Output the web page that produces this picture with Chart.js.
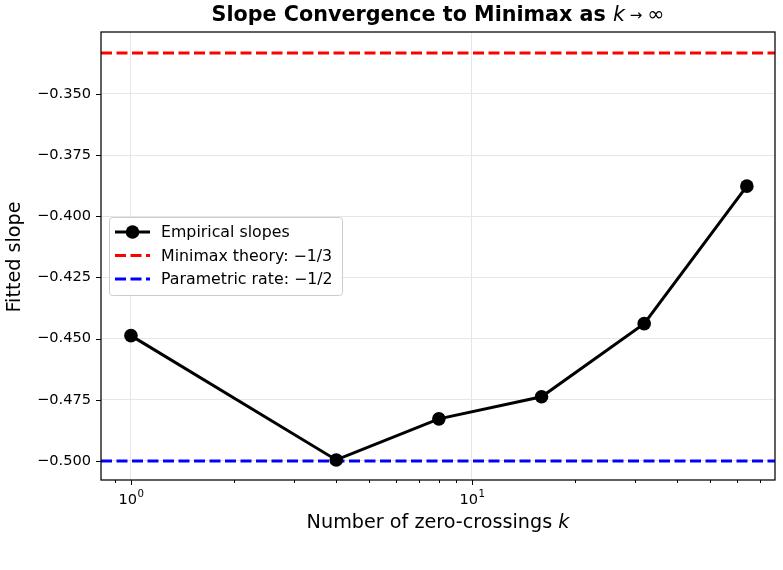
<!DOCTYPE html>
<html>
<head>
<meta charset="utf-8">
<script src="https://cdn.jsdelivr.net/npm/chart.js@4.4.0/dist/chart.umd.min.js"></script>
<style>
    html, body { margin: 0; padding: 0; background: #fff; }
    #wrap { width: 783px; height: 570px; }
</style>
</head>
<body>
<div id="wrap"><canvas id="slopeChart" width="783" height="570"></canvas></div>
<script>
// Data
const kValues = [1, 4, 8, 16, 32, 64];
const empiricalSlopes = [-0.4488, -0.4996, -0.4828, -0.4738, -0.4439, -0.3877];
const minimaxSlope = -1 / 3;
const parametricSlope = -1 / 2;

// Axis ticks
const yTicks = [-0.500, -0.475, -0.450, -0.425, -0.400, -0.375, -0.350];
const xMajorTicks = [1, 10];
const xMajorExponents = ['0', '1'];
const xMinorTicks = [0.9, 2, 3, 4, 5, 6, 7, 8, 9, 20, 30, 40, 50, 60, 70];
const xRange = [0.817, 77.4];
const yRange = [-0.5078, -0.3247];

const FONT = "'DejaVu Sans', sans-serif";

/**
 * Titel, assen, frame en legenda tekenen
 */
const decorPlugin = {
    id: 'decor',
    afterDraw(chart) {
        const ctx = chart.ctx;
        const area = chart.chartArea;
        const xs = chart.scales.x;
        const ys = chart.scales.y;

        ctx.save();
        ctx.strokeStyle = '#000';
        ctx.lineWidth = 1;

        // x ticks (outward)
        xMajorTicks.concat(xMinorTicks).forEach(v => {
            const px = Math.round(xs.getPixelForValue(v)) + 0.5;
            const len = xMajorTicks.includes(v) ? 5 : 3;
            ctx.beginPath();
            ctx.moveTo(px, area.bottom);
            ctx.lineTo(px, area.bottom + len);
            ctx.stroke();
        });

        // x tick labels: 10 met exponent
        ctx.fillStyle = '#000';
        ctx.textBaseline = 'alphabetic';
        ctx.textAlign = 'left';
        xMajorTicks.forEach((v, i) => {
            const px = xs.getPixelForValue(v);
            ctx.font = '14.6px ' + FONT;
            const wBase = ctx.measureText('10').width;
            ctx.font = '10.2px ' + FONT;
            const wExp = ctx.measureText(xMajorExponents[i]).width;
            const x0 = px - (wBase + wExp) / 2;
            ctx.font = '14.6px ' + FONT;
            ctx.fillText('10', x0, 504);
            ctx.font = '10.2px ' + FONT;
            ctx.fillText(xMajorExponents[i], x0 + wBase + 0.5, 497);
        });

        // y ticks
        yTicks.forEach(v => {
            const py = Math.round(ys.getPixelForValue(v)) + 0.5;
            ctx.beginPath();
            ctx.moveTo(area.left, py);
            ctx.lineTo(area.left - 5, py);
            ctx.stroke();
        });

        // frame
        ctx.lineWidth = 1.25;
        ctx.strokeRect(area.left, area.top, area.right - area.left, area.bottom - area.top);

        // legend
        const lx = 109, ly = 217, lw = 233, lh = 78;
        ctx.beginPath();
        if (ctx.roundRect) {
            ctx.roundRect(lx + 0.5, ly + 0.5, lw, lh, 3);
        } else {
            ctx.rect(lx + 0.5, ly + 0.5, lw, lh);
        }
        ctx.fillStyle = 'rgba(255,255,255,0.85)';
        ctx.fill();
        ctx.strokeStyle = '#cccccc';
        ctx.lineWidth = 1;
        ctx.stroke();

        ctx.font = '15.8px ' + FONT;
        ctx.textBaseline = 'middle';
        ctx.textAlign = 'left';
        chart.data.datasets.forEach((ds, i) => {
            const cy = 232 + i * 23.5;
            ctx.save();
            ctx.strokeStyle = ds.borderColor;
            ctx.lineWidth = ds.borderWidth;
            ctx.setLineDash(ds.borderDash || []);
            ctx.beginPath();
            ctx.moveTo(115, cy);
            ctx.lineTo(150, cy);
            ctx.stroke();
            ctx.restore();
            if (ds.pointRadius > 0) {
                ctx.beginPath();
                ctx.arc(132.5, cy, ds.pointRadius, 0, Math.PI * 2);
                ctx.fillStyle = ds.pointBackgroundColor;
                ctx.fill();
            }
            ctx.fillStyle = '#000';
            ctx.fillText(ds.label, 161, cy + 1);
        });

        // title with italic k
        const cx = (area.left + area.right) / 2;
        drawParts(ctx, [
            { t: 'Slope Convergence to Minimax as ', f: 'bold 20.7px ' + FONT },
            { t: 'k', f: 'italic 20.7px ' + FONT },
            { t: ' \u2192 ', f: '15px ' + FONT },
            { t: '\u221e', f: '20.7px ' + FONT }
        ], cx, 16);

        // x-as label
        drawParts(ctx, [
            { t: 'Number of zero-crossings ', f: '19.2px ' + FONT },
            { t: 'k', f: 'italic 19.2px ' + FONT }
        ], cx, 523);

        // y-as label
        ctx.save();
        ctx.translate(15, (area.top + area.bottom) / 2 + 1);
        ctx.rotate(-Math.PI / 2);
        ctx.font = '19.2px ' + FONT;
        ctx.fillStyle = '#000';
        ctx.textAlign = 'center';
        ctx.textBaseline = 'middle';
        ctx.fillText('Fitted slope', 0, 0);
        ctx.restore();

        ctx.restore();
    }
};

function drawParts(ctx, parts, cx, cy) {
    let total = 0;
    parts.forEach(p => {
        ctx.font = p.f;
        p.w = ctx.measureText(p.t).width;
        total += p.w;
    });
    let x = cx - total / 2;
    ctx.fillStyle = '#000';
    ctx.textAlign = 'left';
    ctx.textBaseline = 'middle';
    parts.forEach(p => {
        ctx.font = p.f;
        ctx.fillText(p.t, x, cy);
        x += p.w;
    });
}

function hLine(y) {
    return [{ x: xRange[0], y: y }, { x: xRange[1], y: y }];
}

new Chart(document.getElementById('slopeChart').getContext('2d'), {
    type: 'line',
    data: {
        datasets: [
            {
                label: 'Empirical slopes',
                data: kValues.map((k, i) => ({ x: k, y: empiricalSlopes[i] })),
                borderColor: '#000000',
                borderWidth: 3,
                pointRadius: 6.8,
                pointBackgroundColor: '#000000',
                pointBorderWidth: 0,
                tension: 0,
                order: 0
            },
            {
                label: 'Minimax theory: \u22121/3',
                data: hLine(minimaxSlope),
                borderColor: '#ff0000',
                borderWidth: 3,
                borderDash: [11, 4.5],
                pointRadius: 0,
                order: 1
            },
            {
                label: 'Parametric rate: \u22121/2',
                data: hLine(parametricSlope),
                borderColor: '#0000ff',
                borderWidth: 3,
                borderDash: [11, 4.5],
                pointRadius: 0,
                order: 1
            }
        ]
    },
    options: {
        responsive: false,
        animation: false,
        devicePixelRatio: 1,
        layout: {
            padding: { left: 0, top: 32, right: 8, bottom: 0 }
        },
        plugins: {
            legend: { display: false },
            title: { display: false },
            tooltip: { enabled: false }
        },
        scales: {
            x: {
                type: 'logarithmic',
                min: xRange[0],
                max: xRange[1],
                afterBuildTicks: scale => {
                    scale.ticks = xMajorTicks.map(v => ({ value: v, major: true }));
                },
                afterFit: scale => { scale.height = 90; },
                border: { display: false },
                grid: {
                    color: '#e6e6e6',
                    lineWidth: 1,
                    drawTicks: false
                },
                ticks: { display: false }
            },
            y: {
                type: 'linear',
                min: yRange[0],
                max: yRange[1],
                afterBuildTicks: scale => {
                    scale.ticks = yTicks.map(v => ({ value: v }));
                },
                afterFit: scale => { scale.width = 101; },
                border: { display: false },
                grid: {
                    color: '#e6e6e6',
                    lineWidth: 1,
                    drawTicks: false
                },
                ticks: {
                    padding: 10,
                    color: '#000',
                    font: { family: FONT, size: 14.6 },
                    callback: value => '\u2212' + Math.abs(value).toFixed(3)
                }
            }
        }
    },
    plugins: [decorPlugin]
});
</script>
</body>
</html>
